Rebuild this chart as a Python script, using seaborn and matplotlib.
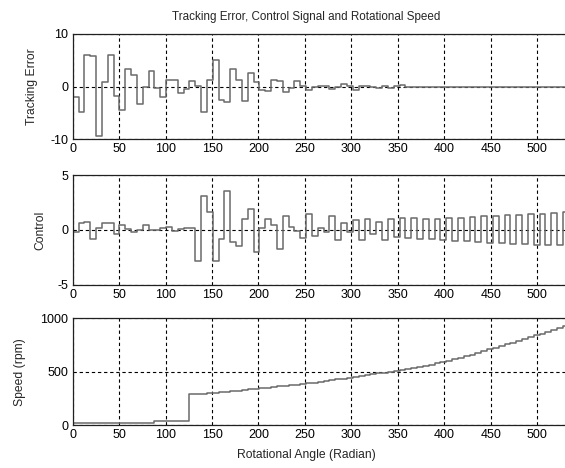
import numpy as np
import matplotlib
matplotlib.use("Agg")
import matplotlib.pyplot as plt
import seaborn as sns

# one sample per revolution (2*pi rad), 86 samples
n_samples = 86
angle = 2 * np.pi * np.arange(n_samples)

# tracking error
tracking_error = [
    -1.9, -4.8, 6.1, 5.8, -9.3, 0.8, 6.1, -1.8, -4.5, 3.3,
    2.2, -3.3, 0.0, 2.9, -0.3, -1.9, 1.2, 1.3, -1.2, -0.45,
    1.15, 0.05, -4.9, 1.2, 5.1, -2.5, -3.0, 3.3, 1.3, -2.8,
    2.5, 0.8, -0.7, -0.9, 1.3, 1.0, -1.1, -0.25, 1.15, 0.05,
    -0.6, 0.0, 0.2, 0.1, -0.5, 0.0, 0.5, 0.1, -0.6, 0.1,
    0.2, -0.1, -0.2, 0.1, -0.3, 0.1, 0.3, 0.0, 0.0, 0.0,
    0.0, 0.0, 0.0, 0.0, 0.0, 0.0, 0.0, 0.0, 0.0, 0.0,
    0.0, 0.0, 0.0, 0.0, 0.0, 0.0, 0.0, 0.0, 0.0, 0.0,
    0.0, 0.0, 0.0, 0.0, 0.0, 0.0,
]

# control signal
control = [
    -0.15, 0.6, 0.75, -0.85, 0.15, 0.6, 0.65, -0.35, 0.5, 0.1,
    -0.15, 0.0, 0.45, 0.0, 0.0, 0.2, 0.3, -0.1, 0.1, 0.15,
    0.15, -2.8, 3.1, 1.65, -2.8, -0.8, 3.6, -1.1, -1.5, 1.0,
    1.9, -2.0, 0.2, 1.0, 0.5, -1.7, 1.3, 0.3, -0.1, -0.75,
    1.5, -0.55, 0.15, -0.15, 1.3, -0.9, 0.6, -0.15, 0.9, -0.9,
    1.0, -0.4, 0.75, -0.9, 1.05, -0.6, 1.1, -0.75, 1.1, -0.85,
    1.05, -0.85, 1.05, -0.9, 1.1, -1.0, 1.1, -1.05, 1.2, -1.1,
    1.25, -1.15, 1.3, -1.2, 1.35, -1.25, 1.4, -1.3, 1.45, -1.35,
    1.5, -1.4, 1.55, -1.4, 1.6, -1.45,
]

# rotational speed (rpm)
speed = [
    22, 22, 22, 22, 22, 22, 22, 22, 22, 22, 22, 22, 22, 22,
    37, 37, 37, 37, 37, 37,
    288, 291, 295, 299, 303, 308, 313, 318, 323, 328,
    334, 339, 344, 350, 355, 361, 367, 373, 379, 384,
    390, 397, 405, 412, 420, 427, 435, 442, 450, 458,
    466, 474, 483, 491, 499, 508, 516, 526, 536, 546,
    557, 567, 578, 589, 600, 614, 629, 645, 660, 677,
    693, 709, 725, 741, 757, 773, 790, 806, 823, 839,
    856, 874, 892, 911, 930, 949,
]

x_ticks = [0, 50, 100, 150, 200, 250, 300, 350, 400, 450, 500]

sns.set_style("white")
plt.rcParams["font.family"] = ["Liberation Sans", "DejaVu Sans"]
plt.rcParams["axes.unicode_minus"] = False

W, H = 565, 468
fig = plt.figure(figsize=(W / 100, H / 100), dpi=100)
left = 72.7 / W
width = 1.0 - left

panels = [
    # (top px, bottom px, values, ylim, yticks, label, label x)
    (34.0, 139.3, tracking_error, (-10, 10), [-10, 0, 10], "Tracking Error", -0.07),
    (175.3, 284.7, control, (-5, 5), [-5, 0, 5], "Control", -0.054),
    (318.3, 425.0, speed, (0, 1000), [0, 500, 1000], "Speed (rpm)", -0.095),
]

line_col = "#6a6a6a"
fs_tick = 9
fs_text = 8.7
for top_px, bot_px, vals, ylim, yticks, label, lx in panels:
    ax = fig.add_axes([left, 1 - bot_px / H, width, (bot_px - top_px) / H])
    sns.lineplot(x=angle, y=vals, drawstyle="steps-post", color=line_col,
                 lw=1.1, ax=ax, estimator=None, sort=False)
    ax.set_xlim(0, 530)
    ax.set_ylim(*ylim)
    ax.set_xticks(x_ticks)
    ax.set_yticks(yticks)
    ax.grid(True, color="black", linestyle=(0, (3, 2.5)), lw=0.8)
    ax.tick_params(direction="in", length=4, width=0.8, labelsize=fs_tick,
                   pad=3, colors="black", top=False, right=False)
    for side in ["left", "top", "bottom"]:
        ax.spines[side].set_color("#202020")
        ax.spines[side].set_linewidth(0.9)
    ax.spines["right"].set_visible(False)
    ax.set_ylabel(label, fontsize=fs_text)
    ax.yaxis.set_label_coords(lx, 0.5)
    ax.set_xlabel("")

fig.text(306 / W, 1 - 17 / H, "Tracking Error, Control Signal and Rotational Speed",
         ha="center", va="center", fontsize=8.4)
fig.text(306 / W, 1 - 455 / H, "Rotational Angle (Radian)",
         ha="center", va="center", fontsize=fs_text)

fig.savefig("out.png", dpi=100)
